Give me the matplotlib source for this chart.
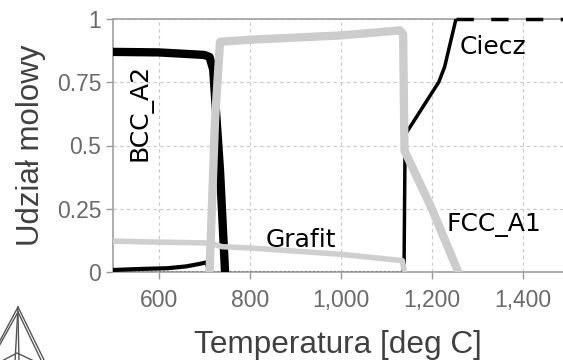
import matplotlib
matplotlib.use("Agg")
import matplotlib.pyplot as plt
from matplotlib.lines import Line2D

# Data (temperature in deg C, mole fraction)
bcc_T = [500, 600, 700, 712, 720, 735, 746]
bcc_y = [0.870, 0.868, 0.858, 0.850, 0.800, 0.400, 0.0]

cem_T = [500, 560, 620, 660, 690, 705, 712]
cem_y = [0.008, 0.012, 0.015, 0.022, 0.032, 0.038, 0.0]

fcc_T = [712, 724, 735, 800, 1000, 1130, 1137, 1140, 1200, 1258]
fcc_y = [0.0, 0.60, 0.910, 0.918, 0.935, 0.955, 0.940, 0.480, 0.250, 0.0]

graf_T = [500, 600, 700, 720, 740, 800, 1000, 1135, 1140]
graf_y = [0.122, 0.118, 0.115, 0.110, 0.100, 0.095, 0.070, 0.045, 0.0]

liq_T = [1136, 1139, 1141, 1144, 1215, 1228, 1253]
liq_y = [0.0, 0.02, 0.45, 0.55, 0.75, 0.81, 1.0]
liq2_T = [1253, 1488]
liq2_y = [1.0, 1.0]

xticks = [600, 800, 1000, 1200, 1400]
xtick_labels = ["600", "800", "1,000", "1,200", "1,400"]
yticks = [0, 0.25, 0.5, 0.75, 1]
ytick_labels = ["0", "0.25", "0.5", "0.75", "1"]

fig = plt.figure(figsize=(5.63, 3.60), dpi=100)
ax = fig.add_axes([113/563, 1-272/360, 1-113/563, (272-19)/360])
ax.set_xlim(500, 1488)
ax.set_ylim(0, 1)

ax.grid(True, color="#c8c8c8", linestyle=(0, (3, 3)), linewidth=0.8)
ax.set_axisbelow(True)

ax.plot([500, 1140], [0, 0], color="black", lw=1.5, ls=(0, (1, 1)), zorder=2)
ax.plot(cem_T, cem_y, color="black", lw=3, zorder=3, solid_joinstyle="miter")
ax.plot(bcc_T, bcc_y, color="black", lw=6, zorder=3)
ax.plot(liq_T, liq_y, color="black", lw=2.5, zorder=3)
ax.plot(liq2_T, liq2_y, color="black", lw=2.5, ls=(0, (5, 5)), zorder=3, clip_on=False)
ax.plot(graf_T, graf_y, color="#cfcfcf", lw=4, zorder=4)
ax.plot(fcc_T, fcc_y, color="#cccccc", lw=6, zorder=5)

ax.set_xticks(xticks)
ax.set_xticklabels(xtick_labels)
ax.set_yticks(yticks)
ax.set_yticklabels(ytick_labels)
ax.tick_params(axis="both", colors="#999999", labelcolor="#6a6a6a",
               labelsize=16.5, length=5, width=1)
ax.tick_params(axis="x", pad=7)
for lab in ax.get_xticklabels() + ax.get_yticklabels():
    lab.set_family("Liberation Sans")

for s in ["left", "bottom", "top"]:
    ax.spines[s].set_color("#a0a0a0")
    ax.spines[s].set_linewidth(1.2)
ax.spines["right"].set_visible(False)

ax.set_xlabel("Temperatura [deg C]", fontsize=22.7, color="#404040",
              family="Liberation Sans", labelpad=13)
ax.set_ylabel("Udział molowy", fontsize=22.5, color="#404040",
              family="Liberation Sans", labelpad=8)

ann = dict(fontsize=18, color="black", family="DejaVu Sans")
ax.text(1262, 0.89, "Ciecz", va="center", ha="left", **ann)
ax.text(1232, 0.186, "FCC_A1", va="center", ha="left", **ann)
ax.text(836, 0.127, "Grafit", va="center", ha="left", **ann)
ax.text(560, 0.63, "BCC_A2", va="center", ha="center", rotation=90, **ann)

# Logo (stylised triangle)
def px(x, y):
    return (x/563, 1-y/360)
logo = [
    [(18, 307), (-5, 350)], [(18, 312), (-2, 348)],
    [(18, 307), (45, 362)], [(18, 312), (42, 362)],
    [(18, 307), (15, 362)], [(18, 314), (19, 362)],
    [(0, 362), (17, 353), (36, 362)],
]
for seg in logo:
    xs, ys = zip(*[px(*p) for p in seg])
    fig.add_artist(Line2D(xs, ys, color="#555555", lw=1.0))

fig.savefig("out.png", dpi=100)
